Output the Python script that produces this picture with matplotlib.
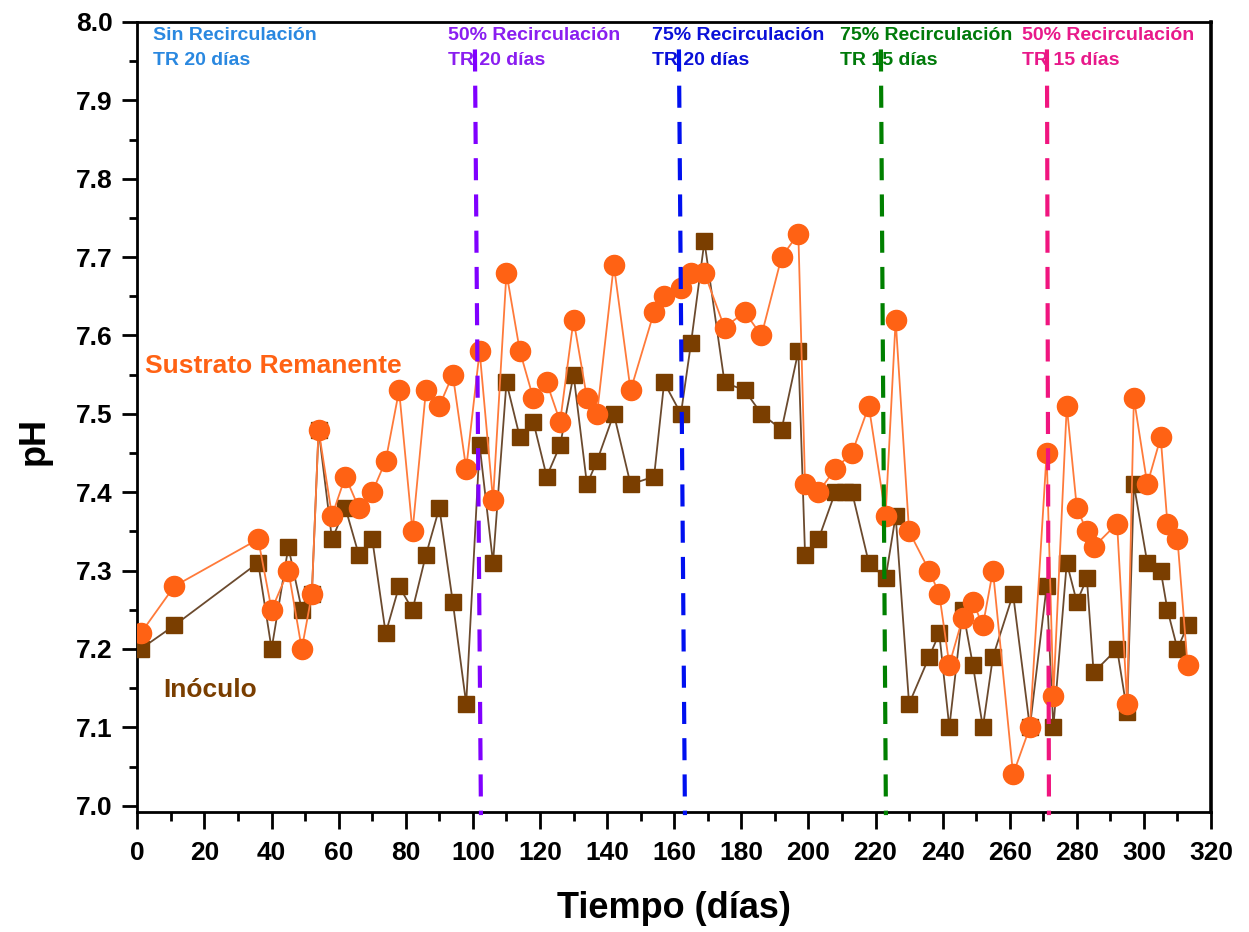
import matplotlib
matplotlib.use("Agg")
import matplotlib.pyplot as plt
from matplotlib.ticker import MultipleLocator, FormatStrFormatter

plt.rcParams['font.family'] = ['Liberation Sans', 'DejaVu Sans']
plt.rcParams['font.weight'] = 'bold'

# Sustrato remanente (circles)
dias_sustrato = [1, 11, 36, 40, 45, 49, 52, 54, 58, 62, 66, 70, 74, 78, 82, 86, 90, 94, 98, 102,
                 106, 110, 114, 118, 122, 126, 130, 134, 137, 142, 147, 154, 157, 162, 165, 169,
                 175, 181, 186, 192, 197, 199, 203, 208, 213, 218, 223, 226, 230, 236, 239, 242,
                 246, 249, 252, 255, 261, 266, 271, 273, 277, 280, 283, 285, 292, 295, 297, 301,
                 305, 307, 310, 313]
ph_sustrato = [7.22, 7.28, 7.34, 7.25, 7.30, 7.20, 7.27, 7.48, 7.37, 7.42, 7.38, 7.40, 7.44, 7.53,
               7.35, 7.53, 7.51, 7.55, 7.43, 7.58, 7.39, 7.68, 7.58, 7.52, 7.54, 7.49, 7.62, 7.52,
               7.50, 7.69, 7.53, 7.63, 7.65, 7.66, 7.68, 7.68, 7.61, 7.63, 7.60, 7.70, 7.73, 7.41,
               7.40, 7.43, 7.45, 7.51, 7.37, 7.62, 7.35, 7.30, 7.27, 7.18, 7.24, 7.26, 7.23, 7.30,
               7.04, 7.10, 7.45, 7.14, 7.51, 7.38, 7.35, 7.33, 7.36, 7.13, 7.52, 7.41, 7.47, 7.36,
               7.34, 7.18]

# Inóculo (squares)
dias_inoculo = [1, 11, 36, 40, 45, 49, 52, 54, 58, 62, 66, 70, 74, 78, 82, 86, 90, 94, 98, 102,
                106, 110, 114, 118, 122, 126, 130, 134, 137, 142, 147, 154, 157, 162, 165, 169,
                175, 181, 186, 192, 197, 199, 203, 208, 211, 213, 218, 223, 226, 230, 236, 239,
                242, 246, 249, 252, 255, 261, 266, 271, 273, 277, 280, 283, 285, 292, 295, 297,
                301, 305, 307, 310, 313]
ph_inoculo = [7.20, 7.23, 7.31, 7.20, 7.33, 7.25, 7.27, 7.48, 7.34, 7.38, 7.32, 7.34, 7.22, 7.28,
              7.25, 7.32, 7.38, 7.26, 7.13, 7.46, 7.31, 7.54, 7.47, 7.49, 7.42, 7.46, 7.55, 7.41,
              7.44, 7.50, 7.41, 7.42, 7.54, 7.50, 7.59, 7.72, 7.54, 7.53, 7.50, 7.48, 7.58, 7.32,
              7.34, 7.40, 7.40, 7.40, 7.31, 7.29, 7.37, 7.13, 7.19, 7.22, 7.10, 7.25, 7.18, 7.10,
              7.19, 7.27, 7.10, 7.28, 7.10, 7.31, 7.26, 7.29, 7.17, 7.20, 7.12, 7.41, 7.31, 7.30,
              7.25, 7.20, 7.23]

# Phase boundaries (day at top and at bottom of the dashed marker) and their colours
fases_dia_sup = [100.6, 161.4, 221.6, 271.1]
fases_dia_inf = [102.4, 163.2, 223.1, 271.7]
fases_color = ['#8000FF', '#0010F0', '#008000', '#F0157F']

# Phase captions
etiquetas_l1 = ['Sin Recirculación', '50% Recirculación', '75% Recirculación',
                '75% Recirculación', '50% Recirculación']
etiquetas_l2 = ['TR 20 días', 'TR 20 días', 'TR 20 días', 'TR 15 días', 'TR 15 días']
etiquetas_x = [4.6, 92.6, 153.4, 209.4, 263.6]
etiquetas_color = ['#2A88E0', '#8A1EF0', '#0A10D8', '#007A0A', '#E8198A']

fig = plt.figure(figsize=(12.49, 9.32), dpi=100)
ax = fig.add_axes([0.110, 0.1288, 0.8596, 0.8476])

ax.plot(dias_inoculo, ph_inoculo, color='#6B4A2E', lw=1.3, marker='s', ms=12,
        mfc='#7A3E00', mec='#7A3E00', zorder=3)
ax.plot(dias_sustrato, ph_sustrato, color='#FF7A3A', lw=1.3, marker='o', ms=14.5,
        mfc='#FF6214', mec='#FF6214', zorder=4)

for x0, x1, c in zip(fases_dia_sup, fases_dia_inf, fases_color):
    ax.plot([x0, x1], [7.965, 6.988], color=c, lw=3, linestyle=(0, (5.3, 3.4)),
            zorder=5, clip_on=False)

for x, l1, l2, c in zip(etiquetas_x, etiquetas_l1, etiquetas_l2, etiquetas_color):
    ax.text(x, 7.983, l1, color=c, fontsize=14, fontweight='bold', va='center', ha='left', zorder=6)
    ax.text(x, 7.951, l2, color=c, fontsize=14, fontweight='bold', va='center', ha='left', zorder=6)

ax.text(2.2, 7.561, 'Sustrato Remanente', color='#FF6214', fontsize=19, fontweight='bold',
        va='center', ha='left')
ax.text(7.6, 7.147, 'Inóculo', color='#7A3E00', fontsize=19, fontweight='bold',
        va='center', ha='left')

ax.set_xlim(0, 320)
ax.set_ylim(6.992, 8.0)
ax.xaxis.set_major_locator(MultipleLocator(20))
ax.xaxis.set_minor_locator(MultipleLocator(10))
ax.yaxis.set_major_locator(MultipleLocator(0.1))
ax.yaxis.set_minor_locator(MultipleLocator(0.05))
ax.yaxis.set_major_formatter(FormatStrFormatter('%.1f'))
ax.set_yticks([7.0 + 0.1 * i for i in range(11)])

ax.tick_params(axis='both', which='both', direction='out', width=2,
               labelsize=19, top=False, right=False)
ax.tick_params(axis='x', which='major', length=12, pad=9)
ax.tick_params(axis='x', which='minor', length=6.5)
ax.tick_params(axis='y', which='major', length=11, pad=7)
ax.tick_params(axis='y', which='minor', length=6)
for lab in ax.get_xticklabels() + ax.get_yticklabels():
    lab.set_fontweight('bold')

for s in ax.spines.values():
    s.set_linewidth(2)
ax.spines['right'].set_linewidth(2.6)

ax.set_xlabel('Tiempo (días)', fontsize=26, fontweight='bold')
ax.set_ylabel('pH', fontsize=26, fontweight='bold')
ax.xaxis.set_label_coords(0.5, -0.10)
ax.yaxis.set_label_coords(-0.08, 0.47)

fig.savefig('out.png', dpi=100)
